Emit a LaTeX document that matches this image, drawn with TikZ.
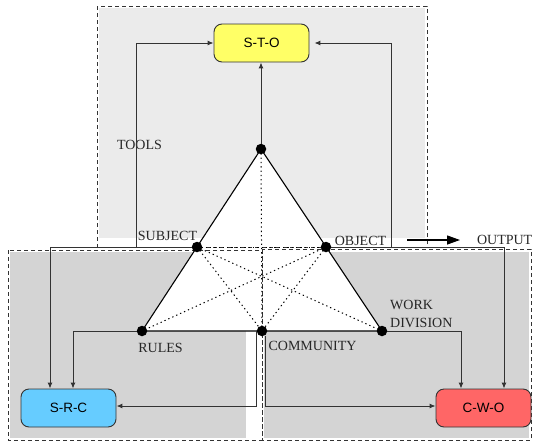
\documentclass[tikz,border=0pt]{standalone}
\usepackage{fontspec}
\setmainfont{Liberation Serif}
\newfontfamily\boxfont{Liberation Sans}
\usetikzlibrary{arrows.meta}
\definecolor{topgray}{HTML}{EBEBEB}
\definecolor{botgray}{HTML}{D4D4D4}
\definecolor{stoy}{HTML}{FFFF66}
\definecolor{srcb}{HTML}{66CCFF}
\definecolor{cwor}{HTML}{FF6666}
\definecolor{linec}{HTML}{333333}
\begin{document}
\begin{tikzpicture}[x=1pt,y=-1pt,
  region/.style={draw=linec, dash pattern=on 4pt off 3pt, line width=0.8pt},
  proc/.style={draw=linec, line width=0.9pt, rounded corners=8pt, minimum width=95pt, minimum height=38pt, font=\boxfont\fontsize{13.5}{16}\selectfont, inner sep=0pt},
  dot/.style={circle, fill=black, minimum size=10.5pt, inner sep=0pt},
  lbl/.style={font=\fontsize{14}{16}\selectfont, inner sep=0pt, text=black!85},
  conn/.style={draw=linec, line width=1pt, -{Latex[length=6pt,width=5pt]}},
  tri/.style={draw=black, line width=1.1pt},
  dotline/.style={draw=black, line width=1pt, dash pattern=on 1.3pt off 3pt},
]
\useasboundingbox (0,0) rectangle (533,445);
% region fills
\fill[topgray] (99,8) rectangle (425,238);
\fill[botgray] (10,252) rectangle (246,438);
\fill[botgray] (264,252) rectangle (529,438);
% positions
\coordinate (T) at (261,149);
\coordinate (S) at (197,247);
\coordinate (O) at (326,247);
\coordinate (R) at (142,331);
\coordinate (C) at (262,331);
\coordinate (W) at (382,331);
% triangle fill
\fill[white] (T) -- (R) -- (W) -- cycle;
% region borders
\draw[region] (97,6) rectangle (427,247);
\draw[region] (8,250) rectangle (262,440);
\draw[region] (262,249) rectangle (531,440);
% triangle edges
\draw[tri] (T) -- (R) -- (W) -- cycle;
\draw[dotline] (T) -- (C);
\draw[dotline] (S) -- (O);
\draw[dotline] (S) -- (C);
\draw[dotline] (S) -- (W);
\draw[dotline] (O) -- (R);
\draw[dotline] (O) -- (C);
% dots
\node[dot] (tools) at (T) {};
\node[dot] (subj) at (S) {};
\node[dot] (obj) at (O) {};
\node[dot] (rules) at (R) {};
\node[dot] (comm) at (C) {};
\node[dot] (wd) at (W) {};
% boxes
\node[proc, fill=stoy] (sto) at (261.5,43) {S-T-O};
\node[proc, fill=srcb] (src) at (68.5,408) {S-R-C};
\node[proc, fill=cwor] (cwo) at (483.5,408) {C-W-O};
% labels
\node[lbl] (ltools) at (139.5,145) {TOOLS};
\node[lbl] (lsubj) at (167.5,235.5) {SUBJECT};
\node[lbl] (lobj) at (360.5,240.5) {OBJECT};
\node[lbl] (lrules) at (160.5,348) {RULES};
\node[lbl] (lcomm) at (312.5,345.5) {COMMUNITY};
\node[lbl, anchor=west] (lwork) at (390,305) {WORK};
\node[lbl, anchor=west] (ldiv) at (390,323) {DIVISION};
\node[lbl, anchor=east] (lout) at (532.5,240) {OUTPUT};
% connectors
\draw[conn] (tools) -- (tools |- sto.south);
\draw[conn] (subj.west) -- ++(-55,0) |- (sto.west);
\draw[conn] (subj.west) -| ([xshift=-18.5pt]src.north);
\draw[conn] (rules.west) -| ([xshift=4.5pt]src.north);
\draw[conn] (obj.east) -- ++(60,0) |- ([xshift=5pt]sto.east);
\draw[conn] (obj.east) -| ([xshift=20.5pt]cwo.north);
\draw[conn] (wd.east) -| ([xshift=-22.5pt]cwo.north);
\draw[conn] ([xshift=-6pt]comm.center) |- ([yshift=2pt]src.east);
\draw[conn] ([xshift=3pt]comm.south) |- ([yshift=2pt]cwo.west);
\coordinate (oa) at (407,240);
\draw[draw=black, line width=1.3pt, -{Triangle[length=13pt,width=9pt]}] (oa) -- (460,240);
\end{tikzpicture}
\end{document}
